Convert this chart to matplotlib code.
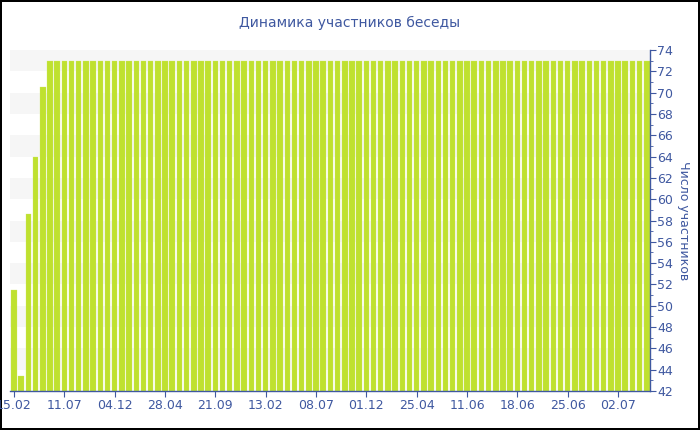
import matplotlib
matplotlib.use("Agg")
import matplotlib.pyplot as plt
from matplotlib.ticker import MultipleLocator
import numpy as np

title = "Динамика участников беседы"
ylabel = "Число участников"

values = [51.5, 43.4, 58.6, 64.0, 70.5,
          73, 73, 73, 73, 73, 73, 73, 73, 73, 73,
          73, 73, 73, 73, 73, 73, 73, 73, 73, 73,
          73, 73, 73, 73, 73, 73, 73, 73, 73, 73,
          73, 73, 73, 73, 73, 73, 73, 73, 73, 73,
          73, 73, 73, 73, 73, 73, 73, 73, 73, 73,
          73, 73, 73, 73, 73, 73, 73, 73, 73, 73,
          73, 73, 73, 73, 73, 73, 73, 73, 73, 73,
          73, 73, 73, 73, 73, 73, 73, 73, 73, 73,
          73, 73, 73, 73]
tick_labels = ["15.02", "11.07", "04.12", "28.04", "21.09", "13.02", "08.07",
               "01.12", "25.04", "11.06", "18.06", "25.06", "02.07"]
tick_step = 7
y_min, y_max = 42, 74

blue = "#3f58a0"
bar_color = "#bfe12f"

fig = plt.figure(figsize=(7, 4.3), dpi=100, linewidth=1.5, edgecolor="black")
ax = fig.add_axes([0.0149, 0.0907, 0.9142, 0.793])

n = len(values)
x = np.arange(n)

# alternating background bands
for lo in range(y_min + 2, y_max, 4):
    ax.axhspan(lo, lo + 2, color="#f6f6f6", zorder=0, lw=0)

ax.bar(x, np.array(values) - y_min, bottom=y_min, width=0.76, color=bar_color,
       edgecolor="#cfe86a", linewidth=0.2, zorder=2)

ax.set_xlim(-0.5, n - 0.5)
ax.set_ylim(y_min, y_max)

ax.set_xticks(x[::tick_step][:len(tick_labels)])
ax.set_xticklabels(tick_labels)

ax.yaxis.tick_right()
ax.yaxis.set_label_position("right")
ax.yaxis.set_major_locator(MultipleLocator(2))
ax.yaxis.set_minor_locator(MultipleLocator(1))

for s in ["top", "left"]:
    ax.spines[s].set_visible(False)
ax.spines["right"].set_color(blue)
ax.spines["bottom"].set_color(blue)
ax.spines["right"].set_linewidth(1)
ax.spines["bottom"].set_linewidth(1)

ax.tick_params(axis="both", colors=blue, labelcolor=blue, labelsize=9)
ax.tick_params(axis="y", which="major", length=4, pad=1)
ax.tick_params(axis="y", which="minor", length=2, color=blue)
ax.tick_params(axis="x", which="major", length=4, pad=2)

ax.set_ylabel(ylabel, color=blue, fontsize=9, rotation=270, labelpad=12)
fig.suptitle(title, color=blue, fontsize=10, y=0.962)

fig.savefig("out.png", dpi=100)
